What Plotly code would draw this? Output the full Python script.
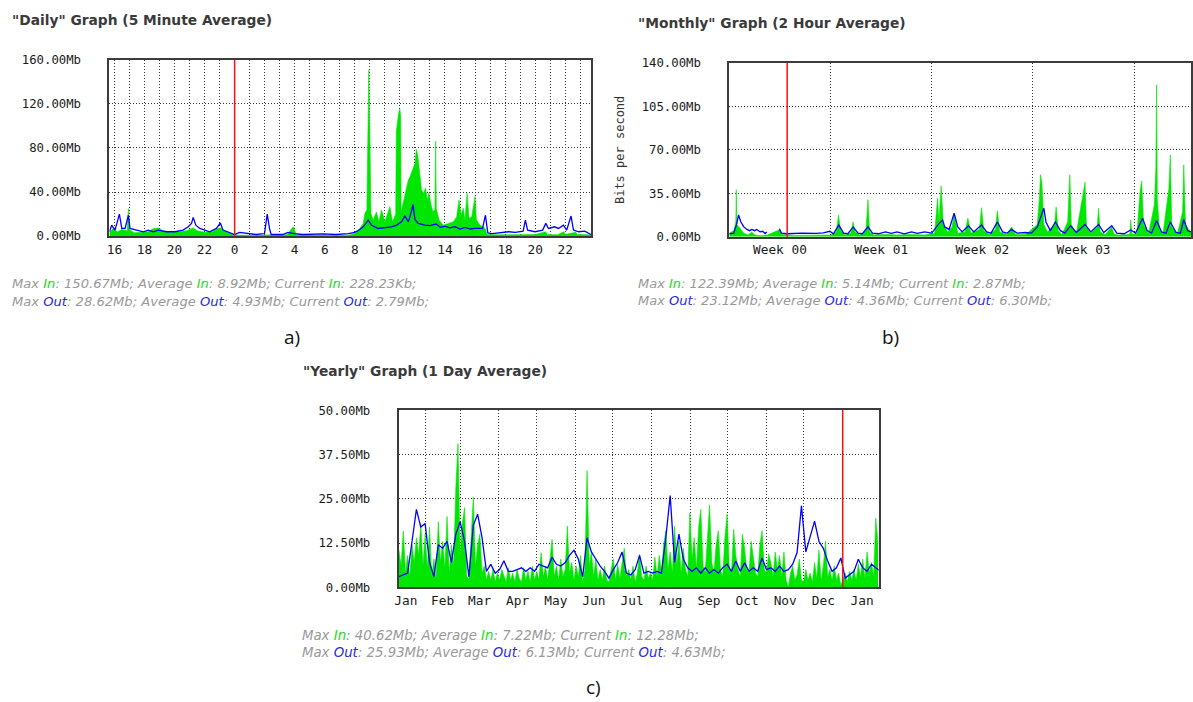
import plotly.graph_objects as go

W, H = 1193, 702

# ---------------- Daily graph (x = hours after 16:00 of day 1) ----------------
daily_in_hours = [
    -0.33, -0.1, 0.2, 0.5, 0.85, 0.93, 1.0, 1.3, 1.8, 2.25,
    2.6, 2.95, 3.3, 3.8, 4.3, 4.8, 5.24, 5.5, 6.0, 6.5,
    6.9, 7.1, 7.4, 7.8, 8.0, 9.0, 10.0, 10.5, 11.5, 11.9,
    12.1, 13.0, 14.0, 15.0, 15.56, 16.0, 16.33, 16.56, 16.67, 16.8,
    16.87, 16.93, 17.0, 17.07, 17.22, 17.44, 17.6, 17.78, 18.0, 18.16,
    18.33, 18.51, 18.67, 18.72, 18.76, 18.85, 18.92, 19.0, 19.05, 19.08,
    19.22, 19.33, 19.44, 19.56, 19.67, 19.78, 19.89, 20.0, 20.09, 20.18,
    20.27, 20.36, 20.44, 20.58, 20.71, 20.82, 20.93, 21.07, 21.2, 21.33,
    21.38, 21.42, 21.6, 21.89, 22.22, 22.56, 22.78, 22.93, 23.07, 23.22,
    23.33, 23.47, 23.6, 23.78, 24.0, 24.09, 24.33, 24.56, 24.7, 24.8,
    25.5, 26.5, 27.3, 28.0, 28.7, 28.8, 29.5, 29.9, 30.0, 30.7,
    30.8, 31.72]
daily_in_mb = [
    3, 7, 4, 6, 5, 25, 6, 3, 3.5, 4,
    7, 7.5, 4, 3.5, 4, 5, 7.5, 5, 3.5, 4,
    7, 7.5, 4, 2, 1, 0.8, 1, 0.8, 1.5, 8.5,
    1.5, 1, 1.2, 1, 0.9, 2.4, 7, 11.6, 20.7, 23.8,
    97, 150.7, 94, 20.7, 14.6, 22, 13, 23.8, 13, 20.7,
    26.8, 13, 17.7, 20, 95, 105, 112, 115.2, 108, 22,
    30, 37.5, 42, 51, 54, 59, 62, 66, 78.7, 74,
    63, 54, 42, 39, 43.6, 33, 39, 28.4, 22.3, 23.8,
    86.3, 25.3, 14.6, 10, 11.6, 13, 17.7, 33, 19.2, 25.3,
    14.6, 39, 16, 17.7, 36, 14.6, 10, 8.5, 6, 1.5,
    1.2, 1.5, 1.2, 1.5, 4, 1.5, 1.2, 4, 1.5, 3.5,
    1.5, 1.2]
daily_out_hours = [
    -0.33, -0.18, 0.04, 0.33, 0.49, 0.71, 0.93, 1.04, 1.48, 1.92,
    2.25, 2.59, 2.92, 3.47, 4.02, 4.57, 4.91, 5.13, 5.24, 5.42,
    5.68, 6.01, 6.34, 6.79, 7.05, 7.23, 7.56, 7.78, 8.0, 8.33,
    8.77, 9.44, 9.99, 10.17, 10.32, 10.43, 11.21, 11.54, 11.98, 12.53,
    13.86, 14.74, 15.56, 16.0, 16.33, 16.56, 16.89, 17.11, 17.56, 18.0,
    18.44, 18.78, 19.11, 19.33, 19.56, 19.73, 19.87, 20.0, 20.22, 20.67,
    21.0, 21.4, 21.7, 22.0, 22.3, 22.67, 23.0, 23.33, 23.7, 24.0,
    24.5, 24.69, 24.85, 25.14, 25.8, 26.24, 26.68, 27.2, 27.35, 27.5,
    28.0, 28.5, 28.71, 28.89, 29.3, 29.55, 29.88, 30.1, 30.39, 30.55,
    30.9, 31.3, 31.72]
daily_out_mb = [
    4, 10, 5.5, 20, 7, 7, 19, 7, 5.5, 4,
    5.5, 4, 5.5, 4, 4, 5.5, 8.5, 11.6, 17, 10,
    7, 5.5, 4, 7, 12, 5.5, 4, 2.4, 1.5, 3.4,
    2.4, 1.5, 2.4, 20, 7, 1.5, 1.5, 3.4, 2.4, 1.5,
    2, 1.5, 2.4, 3.4, 6, 8.5, 14.6, 10, 7, 8,
    8.5, 10, 13, 18.3, 13, 20.7, 28.6, 15.2, 11.6, 10,
    9.5, 11, 8, 9, 7.5, 8.5, 6.5, 8, 6.5, 7,
    7, 19, 3, 2.4, 3.4, 4, 3.4, 4.5, 14.6, 5.5,
    4, 5.5, 11.6, 7, 8.5, 7, 10, 5.5, 18.3, 5.5,
    4, 4.5, 1.5]
daily_grid_hours = list(range(0, 32))
daily_tick_labels = ["16", "18", "20", "22", "0", "2", "4", "6", "8", "10",
                     "12", "14", "16", "18", "20", "22"]
daily_y_ticks = [0, 40, 80, 120, 160]
daily_red_hour = 8
daily_range = [-0.33, 31.72]

# ---------------- Monthly graph (x = days from left edge) ----------------
monthly_in_days = [
    0.0, 0.3, 0.45, 0.48, 0.52, 0.7, 1.0, 1.3, 1.55, 1.75,
    2.2, 2.59, 2.6, 3.45, 3.46, 3.6, 4.5, 5.5, 6.5, 7.0,
    7.4, 7.55, 7.7, 8.0, 8.4, 8.56, 8.7, 9.0, 9.45, 9.59,
    9.7, 10.0, 10.8, 11.6, 12.6, 13.5, 14.2, 14.4, 14.5, 14.65,
    14.8, 15.1, 15.4, 15.55, 15.8, 16.3, 16.5, 16.7, 17.3, 17.44,
    17.6, 18.0, 18.4, 18.54, 18.7, 19.2, 19.52, 19.8, 20.5, 21.3,
    21.45, 21.52, 21.62, 21.75, 22.0, 22.5, 22.6, 22.75, 23.0, 23.4,
    23.55, 23.65, 24.0, 24.45, 24.6, 24.7, 25.0, 25.45, 25.53, 25.65,
    26.0, 26.45, 26.6, 27.0, 27.7, 27.76, 27.85, 28.2, 28.4, 28.52,
    28.65, 29.0, 29.4, 29.5, 29.55, 29.6, 29.75, 30.0, 30.4, 30.5,
    30.6, 31.0, 31.35, 31.43, 31.55, 31.93]
monthly_in_mb = [
    3, 5, 12, 38, 10, 7, 3, 1.5, 4, 1.5,
    1, 1.5, None, None, 6, 2, 1.2, 1.5, 1.2, 1.5,
    4, 17.5, 5, 1.5, 3, 12, 4, 1.5, 5, 30,
    4, 1.5, 2, 1.5, 2, 1.5, 3, 31, 12, 41,
    10, 4, 8, 18, 3, 4, 15, 3, 6, 23.5,
    5, 2, 6, 21, 4, 2, 8, 2, 2, 10,
    32, 50, 43, 10, 4, 10, 24, 5, 2, 12,
    50, 10, 3, 32, 44, 8, 3, 8, 23, 4,
    2, 8, 2, 1.5, 2, 13.5, 2, 3, 36, 45,
    10, 3, 26, 56, 122.4, 30, 6, 3, 39, 66,
    8, 3, 20, 58, 10, 3]
monthly_out_days = [
    0.0, 0.3, 0.5, 0.64, 0.8, 1.0, 1.22, 1.4, 1.56, 1.75,
    1.9, 2.13, 2.3, 2.48, 2.59, 2.6, 3.46, 3.6, 4.0, 5.0,
    6.0, 6.5, 6.95, 7.2, 7.57, 7.9, 8.2, 8.56, 8.9, 9.2,
    9.59, 9.9, 10.3, 10.8, 11.2, 11.6, 12.1, 12.6, 13.0, 13.5,
    14.0, 14.3, 14.52, 14.75, 14.9, 15.2, 15.55, 15.8, 16.1, 16.54,
    16.9, 17.44, 17.8, 18.1, 18.54, 18.9, 19.2, 19.52, 19.9, 20.49,
    20.9, 21.3, 21.6, 21.75, 21.9, 22.2, 22.55, 22.9, 23.2, 23.6,
    24.0, 24.6, 25.0, 25.54, 25.9, 26.45, 26.8, 27.3, 27.76, 28.1,
    28.58, 28.9, 29.2, 29.55, 29.9, 30.2, 30.5, 30.9, 31.2, 31.43,
    31.7, 31.93]
monthly_out_mb = [
    2.5, 3, 10, 17.6, 12, 8, 6, 5, 6, 5,
    6, 4, 4.5, 2.7, 4, None, 6.5, 3, 2.5, 3,
    2.8, 3.2, 4.5, 2.5, 9.5, 3, 2.5, 8, 3, 2.5,
    8, 3, 2.5, 4, 2.8, 4, 2.5, 4, 2.8, 4,
    3, 8, 11, 13.5, 8, 6, 19, 8, 4, 9,
    4, 9.5, 4, 3, 12, 4, 3, 6, 3, 3.5,
    3, 8, 18, 23.1, 12, 5, 12, 5, 3, 9,
    3.5, 10, 4, 10, 3.5, 9, 3, 2.5, 5.5, 3,
    15, 5, 3, 13, 4, 3, 12, 3.5, 3, 14,
    5, 4]
monthly_week_grid = [7, 14, 21, 28]
monthly_label_days = [3.5, 10.5, 17.5, 24.5]
monthly_week_labels = ["Week 00", "Week 01", "Week 02", "Week 03"]
monthly_y_ticks = [0, 35, 70, 105, 140]
monthly_red_day = 4
monthly_range = [0, 31.93]

# ---------------- Yearly graph (x = day of year) ----------------
yearly_in_days = [10 + 1.75 * k for k in range(220)]
yearly_in_mb = [
    10.5, 6, 15.9, 4, 9, 3, 12, 7, 14, 9,
    18, 6, 15, 5, 17, 3, 8, 2.5, 18.5, 7,
    13, 5, 20, 4, 12, 6, 28, 40.6, 9, 18,
    22.5, 3, 2.5, 14, 25.5, 6, 12, 15, 4, 6,
    2, 4.5, 2, 5, 1.5, 4, 2, 5, 3, 1.5,
    5.5, 2, 4, 1.5, 5, 2.5, 1.5, 5.5, 2, 4.5,
    1.5, 6, 2, 4.5, 2, 9.8, 3, 6, 2, 7,
    13.5, 3, 6, 2, 8, 3, 5, 17.3, 4, 7,
    2, 6, 3, 9, 1.5, 5, 33, 6, 10, 3,
    8, 2, 5, 2, 6, 2, 1.5, 5, 8, 2,
    6.5, 2.5, 7, 11, 3, 5, 2, 6, 1.5, 4,
    9.3, 3, 2, 6, 2.5, 4, 2, 8.5, 3, 9,
    4, 12, 16, 5, 10, 4, 17.3, 6, 13, 4,
    11, 5, 3, 21, 8, 14, 5, 17, 22, 6,
    4, 15, 23.3, 7, 4, 12, 16, 5, 3, 14,
    20.6, 6, 4, 16.4, 9, 5, 3, 15, 11, 5,
    4, 13, 9, 4, 3, 12, 16, 5, 4, 9.5,
    7, 3, 10, 5, 9, 3, 10, 2, 0, 4,
    6, 2, 3.5, 8, 2, 1.5, 5, 2, 4, 1.5,
    7, 2.5, 10.5, 2, 6, 13, 3, 5, 2, 6,
    2, 4, 0.5, 2, 4, 1.5, 4.5, 2, 5, 2,
    6.5, 3, 8, 2.5, 10, 4, 7, 3, 19.5, 12.3]
yearly_out_days = [10 + 3.5 * k for k in range(111)]
yearly_out_mb = [
    3, 3.5, 4, 13, 22, 17, 18, 7, 3, 12,
    11, 13, 7, 15, 18.5, 13, 3, 17.5, 20.6, 14,
    4.5, 6.5, 4, 5, 7.5, 4.5, 4.5, 5, 5.5, 4.5,
    5.5, 4.5, 6.5, 6, 5.5, 8.5, 6.5, 6, 7, 9,
    10.5, 8, 3, 14, 10, 8, 6, 4.5, 2.6, 5,
    7, 10, 4, 3.5, 5, 9, 4, 4.5, 4, 4.5,
    4, 14, 25.9, 7, 15, 8, 5.5, 4.5, 5.5, 4,
    5.5, 4, 5, 4, 5.5, 6.5, 4.5, 7.4, 4.5, 6.9,
    4.5, 5.5, 4.5, 8.3, 5, 5.5, 4.5, 6, 4.5, 5,
    6.5, 9.8, 23, 10, 14, 18.7, 13, 11, 7.4, 4.5,
    5.5, 8.3, 2.6, 3.5, 4.5, 7.9, 5.5, 4.5, 6.5, 5.5,
    4.6]
yearly_month_starts = [31, 59, 90, 120, 151, 181, 212, 243, 273, 304, 334, 365]
yearly_label_days = [15.5, 45, 74.5, 105, 135.5, 166, 196.5, 227.5, 258, 288.5, 319, 349.5, 380.5]
yearly_month_labels = ["Jan", "Feb", "Mar", "Apr", "May", "Jun", "Jul", "Aug",
                       "Sep", "Oct", "Nov", "Dec", "Jan"]
yearly_y_ticks = [0, 12.5, 25, 37.5, 50]
yearly_red_day = 365
yearly_range = [9.83, 393.7]

# ---------------- Summary texts ----------------
daily_stats_in = ["150.67Mb", "8.92Mb", "228.23Kb"]
daily_stats_out = ["28.62Mb", "4.93Mb", "2.79Mb"]
monthly_stats_in = ["122.39Mb", "5.14Mb", "2.87Mb"]
monthly_stats_out = ["23.12Mb", "4.36Mb", "6.30Mb"]
yearly_stats_in = ["40.62Mb", "7.22Mb", "12.28Mb"]
yearly_stats_out = ["25.93Mb", "6.13Mb", "4.63Mb"]

# ---------------- Styling ----------------
GREEN = "#00e600"
BLUE = "#0000ff"
RED = "#ff1010"
GRID = "#333333"
FRAME = "#3c3c3c"
DASH = "1px,2px"
TICK_FONT = dict(family="DejaVu Sans Mono", size=12.3, color="#1a1a1a")
IN_COLOR = "#22d822"
OUT_COLOR = "#2a2ad8"
STAT_GRAY = "#999999"


def py_(y):
    # screen-row correction for the page photograph
    return (y - 6.3) / 0.9836


def dom_x(a, b):
    return [a / W, b / W]


def dom_y(top, bottom):
    return [1 - py_(bottom) / H, 1 - py_(top) / H]


fig = go.Figure()


def add_pair(x_in, y_in, x_out, y_out, xa, ya):
    fig.add_trace(go.Scatter(x=x_in, y=y_in, mode="lines",
                             line=dict(color=GREEN, width=0.6),
                             fill="tozeroy", fillcolor=GREEN,
                             xaxis=xa, yaxis=ya, hoverinfo="skip"))
    fig.add_trace(go.Scatter(x=x_out, y=y_out, mode="lines",
                             line=dict(color=BLUE, width=1.3),
                             xaxis=xa, yaxis=ya, hoverinfo="skip"))


add_pair(daily_in_hours, daily_in_mb, daily_out_hours, daily_out_mb, "x", "y")
add_pair(monthly_in_days, monthly_in_mb, monthly_out_days, monthly_out_mb, "x2", "y2")
add_pair(yearly_in_days, yearly_in_mb, yearly_out_days, yearly_out_mb, "x3", "y3")

common_axis = dict(showline=True, linecolor=FRAME, linewidth=2, mirror=True,
                   ticks="", zeroline=False, tickfont=TICK_FONT,
                   gridcolor=GRID, griddash=DASH, gridwidth=1, fixedrange=True)


def yaxis_for(ticks, anchor, domain):
    return dict(common_axis, range=[0, ticks[-1]], tickmode="array",
                tickvals=ticks, ticktext=[f"{t:.2f}Mb" for t in ticks],
                showgrid=True, anchor=anchor, domain=domain,
                ticklabelstandoff=24)


daily_ticktext = []
for h in daily_grid_hours:
    daily_ticktext.append(daily_tick_labels[h // 2] if h % 2 == 0 else "")

XTICK_FONT = dict(TICK_FONT, size=12.8)

fig.update_layout(
    width=W, height=H, margin=dict(l=0, r=0, t=0, b=0),
    paper_bgcolor="white", plot_bgcolor="white", showlegend=False,
    xaxis=dict(common_axis, range=daily_range, domain=dom_x(106, 590), anchor="y",
               tickmode="array", tickvals=daily_grid_hours, ticktext=daily_ticktext,
               showgrid=True, ticklabelstandoff=0, tickfont=XTICK_FONT),
    yaxis=yaxis_for(daily_y_ticks, "x", dom_y(59.3, 236.3)),
    xaxis2=dict(common_axis, range=monthly_range, domain=dom_x(729, 1193), anchor="y2",
                tickmode="array", tickvals=monthly_label_days, ticktext=monthly_week_labels,
                showgrid=False, ticklabelstandoff=0, tickfont=XTICK_FONT,
                minor=dict(tickmode="array", tickvals=monthly_week_grid, showgrid=True,
                           gridcolor=GRID, griddash=DASH, gridwidth=1, ticklen=0)),
    yaxis2=yaxis_for(monthly_y_ticks, "x2", dom_y(62.5, 237)),
    xaxis3=dict(common_axis, range=yearly_range, domain=dom_x(396.7, 879), anchor="y3",
                tickmode="array", tickvals=yearly_label_days, ticktext=yearly_month_labels,
                showgrid=False, ticklabelstandoff=0, tickfont=XTICK_FONT,
                minor=dict(tickmode="array", tickvals=yearly_month_starts, showgrid=True,
                           gridcolor=GRID, griddash=DASH, gridwidth=1, ticklen=0)),
    yaxis3=yaxis_for(yearly_y_ticks, "x3", dom_y(411, 588.7)),
)

for xr, yr, xv in (("x", "y domain", daily_red_hour),
                   ("x2", "y2 domain", monthly_red_day),
                   ("x3", "y3 domain", yearly_red_day)):
    fig.add_shape(type="line", xref=xr, yref=yr, x0=xv, x1=xv, y0=0, y1=1,
                  line=dict(color=RED, width=1.5))


def ann(text, px, py, size, family, color="#333333", bold=False, angle=0,
        xanchor="left"):
    fig.add_annotation(text=f"<b>{text}</b>" if bold else text, xref="paper", yref="paper",
                       x=px / W, y=1 - py_(py) / H, xanchor=xanchor, yanchor="middle",
                       showarrow=False, textangle=angle, borderpad=0,
                       font=dict(family=family, size=size, color=color))


TITLE_FONT = "DejaVu Sans"
ann('"Daily" Graph (5 Minute Average)', 7, 19.3, 13.8, TITLE_FONT, color="#3a3a3a", bold=True)
ann('"Monthly" Graph (2 Hour Average)', 636, 22.7, 13.8, TITLE_FONT, color="#3a3a3a", bold=True)
ann('"Yearly" Graph (1 Day Average)', 300, 371.5, 13.8, TITLE_FONT, color="#3a3a3a", bold=True)


def stat_lines(vals_in, vals_out):
    i = f'<span style="color:{IN_COLOR}">In</span>'
    o = f'<span style="color:{OUT_COLOR}">Out</span>'
    l1 = f"<i>Max {i}: {vals_in[0]}; Average {i}: {vals_in[1]}; Current {i}: {vals_in[2]};</i>"
    l2 = f"<i>Max {o}: {vals_out[0]}; Average {o}: {vals_out[1]}; Current {o}: {vals_out[2]};</i>"
    return l1, l2


STAT_FONT = "DejaVu Sans"
for (vi, vo, px, y1, y2, fs) in ((daily_stats_in, daily_stats_out, 7, 284, 301.7, 13.1),
                                 (monthly_stats_in, monthly_stats_out, 636, 283.3, 300.7, 13),
                                 (yearly_stats_in, yearly_stats_out, 299, 637, 654, 13.3)):
    l1, l2 = stat_lines(vi, vo)
    ann(l1, px, y1, fs, STAT_FONT, color=STAT_GRAY)
    ann(l2, px, y2, fs, STAT_FONT, color=STAT_GRAY)

ann("Bits per second", 619, 150, 12, "DejaVu Sans Mono", color="#333333", angle=-90,
    xanchor="center")

CAP_FONT = "Open Sans"
ann("a)", 289, 337.5, 19, CAP_FONT, color="#111111", xanchor="center")
ann("b)", 891, 337.5, 19, CAP_FONT, color="#111111", xanchor="center")
ann("c)", 592, 689, 19, CAP_FONT, color="#111111", xanchor="center")

fig.write_html("out.html", config={"displayModeBar": False, "staticPlot": True},
               post_script="document.body.style.margin='0px';"
                           "document.body.style.overflow='hidden';")
